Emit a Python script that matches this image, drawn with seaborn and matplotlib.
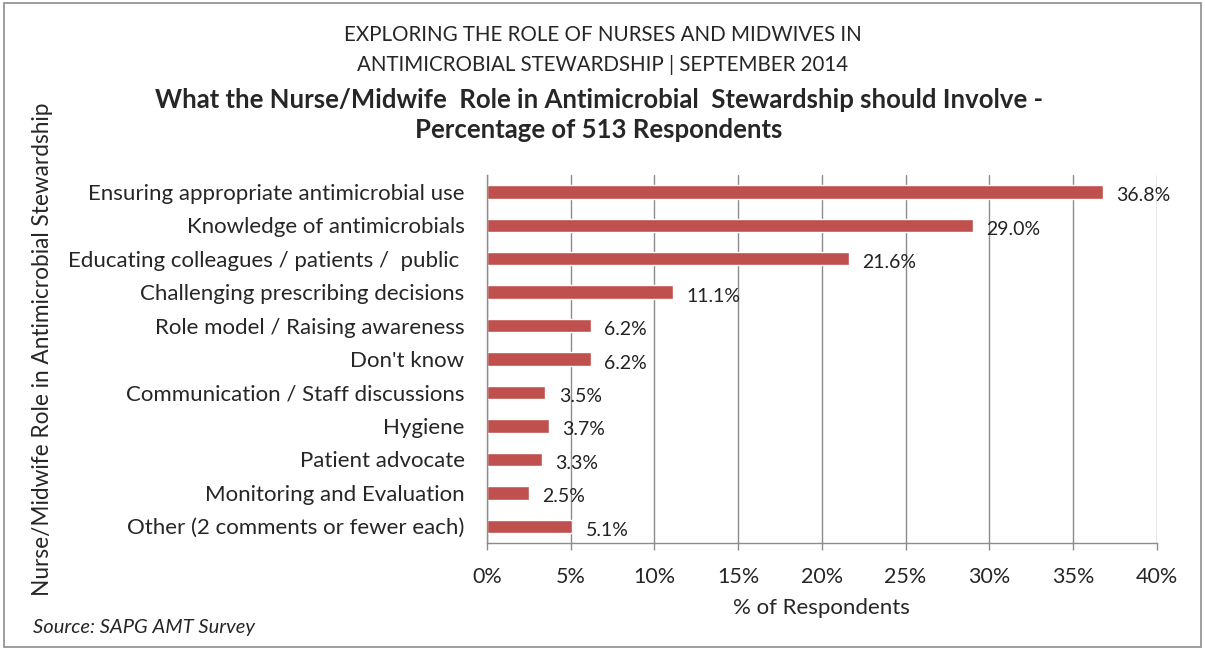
import matplotlib
matplotlib.use("Agg")
import matplotlib.pyplot as plt
import seaborn as sns
import pandas as pd
from matplotlib.patches import Rectangle
from matplotlib.ticker import PercentFormatter

# Data
roles = [
    "Ensuring appropriate antimicrobial use",
    "Knowledge of antimicrobials",
    "Educating colleagues / patients /  public ",
    "Challenging prescribing decisions",
    "Role model / Raising awareness",
    "Don't know",
    "Communication / Staff discussions",
    "Hygiene",
    "Patient advocate",
    "Monitoring and Evaluation",
    "Other (2 comments or fewer each)",
]
percent = [36.8, 29.0, 21.6, 11.1, 6.2, 6.2, 3.5, 3.7, 3.3, 2.5, 5.1]
x_ticks = [0, 5, 10, 15, 20, 25, 30, 35, 40]

df = pd.DataFrame({"role": roles, "percent": percent})

sns.set_theme(style="white")
plt.rcParams["font.family"] = ["Lato", "DejaVu Sans"]

fig = plt.figure(figsize=(12.05, 6.5), dpi=100)
ax = fig.add_axes([0.404, 0.1646, 0.556, 0.566])

sns.barplot(data=df, y="role", x="percent", orient="h", color="#C0504D",
            width=0.4, saturation=1, ax=ax)

# value labels
for i, v in enumerate(percent):
    ax.text(v + 0.8, i + 0.12, f"{v:.1f}%", va="center", ha="left",
            fontsize=14, color="#222222")

ax.set_xlim(0, 40)
ax.set_ylim(len(roles) - 0.5, -0.5)
ax.set_xticks(x_ticks)
ax.xaxis.set_major_formatter(PercentFormatter(decimals=0))
ax.grid(axis="x", color="#8c8c8c", linewidth=1)
ax.set_axisbelow(True)

# category boundary ticks on the y axis
ax.set_yticks(range(len(roles)))
ax.set_yticklabels(roles, fontsize=16)
ax.tick_params(axis="y", length=0, pad=16)
ax.set_yticks([i - 0.5 for i in range(len(roles) + 1)], minor=True)
ax.tick_params(axis="y", which="minor", length=5, color="#8c8c8c", width=1)
ax.tick_params(axis="x", length=5, color="#8c8c8c", width=1, labelsize=15.5,
               pad=12, bottom=True)

for side in ["top", "right"]:
    ax.spines[side].set_visible(False)
for side in ["left", "bottom"]:
    ax.spines[side].set_color("#8c8c8c")
    ax.spines[side].set_linewidth(1)

ax.set_xlabel("% of Respondents", fontsize=16, labelpad=8)
ax.set_ylabel("")

fig.text(0.035, 0.462, "Nurse/Midwife Role in Antimicrobial Stewardship",
         rotation=90, ha="center", va="center", fontsize=16.3)

fig.text(0.5, 0.946, "EXPLORING THE ROLE OF NURSES AND MIDWIVES IN",
         ha="center", va="center", fontsize=14.8)
fig.text(0.5, 0.9, "ANTIMICROBIAL STEWARDSHIP | SEPTEMBER 2014",
         ha="center", va="center", fontsize=14.8)
fig.text(0.497, 0.846, "What the Nurse/Midwife  Role in Antimicrobial  Stewardship should Involve -",
         ha="center", va="center", fontsize=18.5, fontweight="bold")
fig.text(0.497, 0.8, "Percentage of 513 Respondents",
         ha="center", va="center", fontsize=18.5, fontweight="bold")

fig.text(0.027, 0.034, "Source: SAPG AMT Survey", ha="left", va="center",
         fontsize=14.5, style="italic")

# outer chart frame
fig.patches.append(Rectangle((0.003, 0.005), 0.994, 0.99, transform=fig.transFigure,
                             fill=False, edgecolor="#8c8c8c", linewidth=1.2))

fig.savefig("out.png", dpi=100)
